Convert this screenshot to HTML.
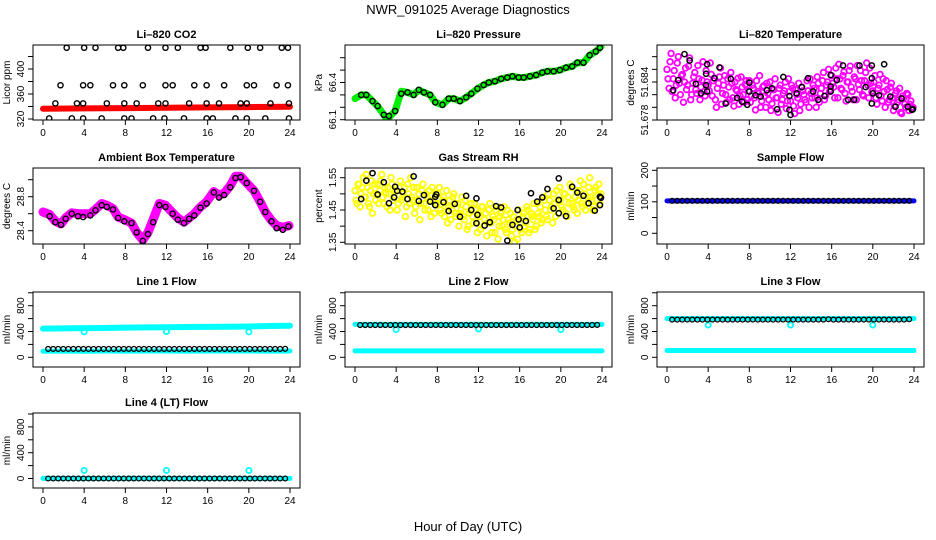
<!DOCTYPE html>
<html><head><meta charset="utf-8"><title>NWR_091025 Average Diagnostics</title>
<style>
html,body{margin:0;padding:0;background:#fff;}
svg{display:block;font-family:"Liberation Sans",sans-serif;}
</style></head>
<body>
<svg id="chart" width="936" height="540" viewBox="0 0 936 540" xmlns="http://www.w3.org/2000/svg">
<rect x="0" y="0" width="936" height="540" fill="#fff"/>
<text x="468" y="14" font-size="13" text-anchor="middle">NWR_091025  Average Diagnostics</text>
<text x="468" y="531" font-size="13" text-anchor="middle">Hour of Day (UTC)</text>
</svg>
<script>
// ---------- data ----------
const xTicks=[0,4,8,12,16,20,24];
// CO2
const co2RedHours=[0,4,8,12,16,20,24];
const co2RedVals=[336.5,337,337.5,338,338.5,339,339.5];
const co2TopHours=[2.3,4.0,5.1,7.3,7.8,10.2,11.9,13.1,15.3,15.8,18.2,19.9,21.1,23.2,23.8];
const co2TopVals=[434,434,434,434,434,434,434,434,434,434,434,434,434,434,434];
const co2MidHours=[1.7,3.9,4.6,6.8,7.9,9.7,11.9,12.6,14.7,15.9,17.6,19.8,20.5,22.7,23.8];
const co2MidVals=[374,374,374,374,374,374,374,374,374,374,374,374,374,374,374];
const co2LowHours=[1.2,3.3,3.9,6.2,7.9,9.1,11.2,11.9,14.2,15.9,17.1,19.2,19.8,22.1,23.9];
const co2LowVals=[345,345,345,345,345,345,345,345,345,345,345,345,345,345,345];
const co2BotHours=[0.6,2.8,3.9,5.7,7.9,8.6,10.7,11.8,13.7,15.9,16.5,18.7,19.8,21.6,23.9];
const co2BotVals=[321,321,321,321,321,321,321,321,321,321,321,321,321,321,321];
// Pressure
const presHours=[0.6,1.1,1.7,2.2,2.8,3.3,3.9,4.5,5.1,5.7,6.2,6.7,7.3,7.8,8.5,9.1,9.6,10.2,10.8,11.3,11.9,12.5,13.0,13.6,14.2,14.8,15.3,15.9,16.4,17.0,17.6,18.2,18.7,19.3,19.9,20.5,21.1,21.6,22.2,22.8,23.4,23.8];
const presVals=[66.30,66.30,66.25,66.21,66.14,66.13,66.17,66.31,66.32,66.30,66.34,66.32,66.30,66.24,66.22,66.27,66.27,66.25,66.28,66.31,66.35,66.38,66.40,66.41,66.43,66.44,66.45,66.44,66.44,66.45,66.46,66.48,66.49,66.49,66.50,66.52,66.53,66.56,66.56,66.62,66.65,66.68];
const presBandHours=[0,0.6,1.1,1.7,2.2,2.8,3.1,3.9,4.5,5.1,5.7,6.2,6.7,7.3,7.8,8.5,9.1,9.6,10.2,10.8,11.3,11.9,12.5,13.0,13.6,14.2,14.8,15.3,15.9,16.4,17.0,17.6,18.2,18.7,19.3,19.9,20.5,21.1,21.6,22.2,22.8,23.4,23.9];
const presBandVals=[66.27,66.30,66.30,66.25,66.21,66.14,66.10,66.17,66.33,66.32,66.30,66.34,66.32,66.30,66.24,66.22,66.27,66.27,66.25,66.28,66.31,66.35,66.38,66.40,66.41,66.43,66.44,66.45,66.44,66.44,66.45,66.46,66.48,66.49,66.49,66.50,66.52,66.53,66.56,66.56,66.62,66.65,66.69];
// Li-820 temperature
const tempBlackHours=[0.6,1.1,1.7,2.2,2.8,3.3,3.8,3.8,3.9,3.9,4.6,5.1,5.7,6.2,6.8,7.3,7.8,8.0,8.0,8.6,9.1,9.7,10.2,10.7,11.3,11.9,11.9,12.0,12.6,13.1,13.7,14.2,14.7,15.3,15.9,15.9,15.9,16.5,17.1,17.6,18.2,18.7,19.3,19.9,19.9,19.9,20.0,20.6,21.1,21.7,22.2,22.8,23.4,23.8,23.9];
const tempBlackVals=[51.6827,51.6843,51.6884,51.6874,51.6837,51.6822,51.6853,51.6835,51.6825,51.6868,51.6846,51.6863,51.6806,51.6845,51.6815,51.6809,51.6804,51.6825,51.6839,51.6819,51.6817,51.6827,51.6830,51.6797,51.6848,51.6818,51.6796,51.6788,51.6822,51.6832,51.6846,51.6825,51.6812,51.6818,51.6833,51.6851,51.6825,51.6843,51.6866,51.6812,51.6812,51.6866,51.6832,51.6866,51.6846,51.6806,51.6822,51.6819,51.6868,51.6817,51.6801,51.6814,51.6801,51.6796,51.6797];
const tempCloudA=[51.6860,51.6830,51.6885,51.6845,51.6815,51.6870,51.6838,51.6850,51.6808,51.6862,51.6835,51.6878,51.6820,51.6848,51.6828,51.6866,51.6812,51.6843,51.6825,51.6858,
51.6835,51.6870,51.6818,51.6846,51.6800,51.6838,51.6862,51.6822,51.6850,51.6808,51.6832,51.6855,51.6815,51.6840,51.6826,51.6805,51.6848,51.6820,51.6836,51.6812,
51.6842,51.6818,51.6830,51.6796,51.6825,51.6850,51.6810,51.6834,51.6800,51.6822,51.6840,51.6806,51.6828,51.6815,51.6792,51.6835,51.6812,51.6826,51.6798,51.6845,
51.6810,51.6830,51.6790,51.6820,51.6838,51.6805,51.6826,51.6812,51.6842,51.6800,51.6822,51.6835,51.6815,51.6848,51.6808,51.6830,51.6855,51.6818,51.6840,51.6825,
51.6850,51.6832,51.6862,51.6815,51.6845,51.6828,51.6856,51.6810,51.6840,51.6865,51.6825,51.6848,51.6812,51.6836,51.6858,51.6820,51.6842,51.6870,51.6815,51.6838,
51.6826,51.6850,51.6805,51.6835,51.6818,51.6845,51.6800,51.6828,51.6812,51.6838,51.6795,51.6822,51.6808,51.6830,51.6790,51.6815,51.6800,51.6820,51.6805,51.6798];
const tempCloudB=[51.6845,51.6872,51.6825,51.6858,51.6835,51.6880,51.6820,51.6852,51.6840,51.6828,51.6865,51.6812,51.6838,51.6855,51.6822,51.6845,51.6832,51.6872,51.6818,51.6840,
51.6826,51.6852,51.6842,51.6812,51.6830,51.6848,51.6805,51.6835,51.6820,51.6845,51.6812,51.6838,51.6802,51.6828,51.6846,51.6818,51.6832,51.6808,51.6842,51.6826,
51.6808,51.6835,51.6815,51.6842,51.6822,51.6800,51.6832,51.6818,51.6838,51.6812,51.6795,51.6828,51.6845,51.6815,51.6830,51.6805,51.6822,51.6840,51.6810,51.6825,
51.6835,51.6802,51.6828,51.6815,51.6795,51.6832,51.6820,51.6808,51.6826,51.6845,51.6815,51.6830,51.6800,51.6838,51.6822,51.6842,51.6812,51.6835,51.6860,51.6828,
51.6838,51.6815,51.6845,51.6868,51.6830,51.6850,51.6822,51.6840,51.6858,51.6832,51.6812,51.6845,51.6866,51.6828,51.6842,51.6818,51.6855,51.6835,51.6862,51.6825,
51.6840,51.6815,51.6830,51.6852,51.6810,51.6825,51.6842,51.6808,51.6832,51.6815,51.6802,51.6826,51.6812,51.6792,51.6818,51.6805,51.6822,51.6795,51.6810,51.6800];
// Ambient box temperature
const ambHours=[0.65,1.2,1.75,2.2,2.8,3.4,3.9,4.6,5.1,5.7,6.2,6.8,7.3,7.9,8.6,9.1,9.7,10.2,10.7,11.3,11.9,12.6,13.1,13.7,14.2,14.7,15.3,15.9,16.6,17.1,17.6,18.2,18.7,19.2,19.8,20.5,21.1,21.6,22.2,22.7,23.3,23.85];
const ambVals=[28.57,28.50,28.47,28.54,28.60,28.57,28.56,28.58,28.64,28.70,28.68,28.65,28.55,28.51,28.49,28.38,28.28,28.36,28.50,28.70,28.68,28.60,28.53,28.49,28.54,28.58,28.67,28.72,28.85,28.79,28.82,28.91,29.02,29.03,28.96,28.87,28.74,28.62,28.51,28.43,28.41,28.45];
const ambBandHours=[0,0.65,1.2,1.75,2.2,2.8,3.4,3.9,4.6,5.1,5.7,6.2,6.8,7.3,7.9,8.6,9.1,9.7,10.2,10.7,11.3,11.9,12.6,13.1,13.7,14.2,14.7,15.3,15.9,16.6,17.1,17.6,18.2,18.7,19.2,19.8,20.5,21.1,21.6,22.2,22.7,23.3,23.9];
const ambBandVals=[28.62,28.59,28.51,28.48,28.55,28.61,28.60,28.60,28.60,28.65,28.72,28.70,28.66,28.56,28.53,28.49,28.38,28.29,28.38,28.53,28.72,28.70,28.61,28.55,28.50,28.55,28.60,28.68,28.74,28.86,28.82,28.84,28.93,29.04,29.04,28.96,28.87,28.74,28.62,28.52,28.46,28.44,28.46];
// Gas stream RH
const rhBlackHours=[0.6,1.1,1.7,2.2,2.8,3.3,3.8,3.9,4.1,4.6,5.1,5.7,6.2,6.7,7.3,7.8,7.9,7.8,8.6,9.1,9.7,10.2,10.8,11.3,11.8,11.9,11.8,12.6,13.1,13.7,14.2,14.8,15.3,15.8,15.9,16.0,16.6,17.1,17.7,18.2,18.7,19.3,19.8,19.8,19.8,20.5,21.1,21.6,22.2,22.7,23.3,23.8,23.8,23.9];
const rhBlackVals=[1.484,1.541,1.564,1.498,1.536,1.471,1.489,1.522,1.509,1.507,1.484,1.554,1.478,1.496,1.476,1.491,1.498,1.465,1.474,1.447,1.469,1.429,1.494,1.450,1.486,1.435,1.409,1.402,1.412,1.462,1.458,1.355,1.404,1.450,1.421,1.396,1.416,1.502,1.476,1.489,1.515,1.455,1.440,1.481,1.548,1.431,1.522,1.504,1.494,1.471,1.448,1.491,1.465,1.488];
const rhCloudA=[1.51,1.47,1.53,1.50,1.55,1.49,1.52,1.46,1.54,1.50,1.48,1.53,1.51,1.56,1.47,1.50,1.52,1.45,1.53,1.49,
1.51,1.47,1.54,1.49,1.52,1.46,1.50,1.55,1.48,1.44,1.52,1.50,1.47,1.53,1.45,1.49,1.51,1.43,1.48,1.50,
1.47,1.52,1.44,1.49,1.46,1.41,1.48,1.45,1.50,1.43,1.47,1.44,1.49,1.42,1.46,1.40,1.45,1.43,1.47,1.41,
1.44,1.39,1.46,1.42,1.37,1.45,1.41,1.43,1.38,1.46,1.40,1.44,1.42,1.39,1.45,1.41,1.37,1.43,1.40,1.36,
1.42,1.38,1.44,1.41,1.45,1.39,1.43,1.47,1.40,1.44,1.46,1.42,1.48,1.43,1.50,1.45,1.41,1.47,1.51,1.44,
1.48,1.45,1.50,1.43,1.47,1.52,1.46,1.49,1.44,1.51,1.47,1.53,1.45,1.49,1.55,1.48,1.46,1.52,1.50,1.47];
const rhCloudB=[1.48,1.53,1.46,1.52,1.49,1.56,1.47,1.51,1.44,1.53,1.50,1.47,1.54,1.49,1.52,1.46,1.50,1.55,1.48,1.51,
1.45,1.52,1.48,1.50,1.43,1.53,1.47,1.49,1.52,1.46,1.48,1.42,1.51,1.47,1.50,1.45,1.48,1.52,1.44,1.47,
1.50,1.45,1.48,1.43,1.51,1.46,1.42,1.49,1.44,1.47,1.40,1.45,1.43,1.48,1.39,1.44,1.47,1.41,1.45,1.38,
1.43,1.46,1.40,1.44,1.41,1.47,1.38,1.42,1.45,1.36,1.43,1.40,1.46,1.38,1.42,1.44,1.39,1.35,1.42,1.45,
1.39,1.43,1.40,1.46,1.38,1.44,1.42,1.39,1.47,1.43,1.41,1.49,1.45,1.42,1.48,1.46,1.50,1.43,1.48,1.52,
1.46,1.50,1.44,1.49,1.53,1.47,1.45,1.51,1.48,1.54,1.46,1.50,1.47,1.52,1.49,1.45,1.51,1.48,1.53,1.50];
// Flows: bands sampled every 2 h
const bandHours=[0,2,4,6,8,10,12,14,16,18,20,22,24];
const sampleBand=[103,103,103,103,103,103,103,103,103,103,103,103,103];
const sampleBlack=[103,103,103,103,103,103,103,103,103,103,103,103,103,103,103,103,103,103,103,103,103,103,103,103,103,103,103,103,103,103,103,103,103,103,103,103,103,103,103,103,103,103,103,103,103,103,103,103];
const line1Upper=[445,448,452,455,460,463,467,470,472,475,478,485,490];
const line1Lower=[95,96,95,97,96,98,97,96,97,98,97,96,97];
const line1Black=[130,130,130,130,130,130,130,130,130,130,130,130,130,130,130,130,130,130,130,130,130,130,130,130,130,130,130,130,130,130,130,130,130,130,130,130,130,130,130,130,130,130,130,130,130,130,130,132];
const line2Upper=[510,510,510,510,510,510,510,510,510,510,510,510,510];
const line2Lower=[100,100,100,100,100,100,100,100,100,100,100,100,100];
const line2Black=[500,500,500,500,500,500,500,500,500,500,500,500,500,500,500,500,500,500,500,500,500,500,500,500,500,500,500,500,500,500,500,500,500,500,500,500,500,500,500,500,500,500,500,500,500,500,500,502];
const line3Upper=[600,600,600,600,600,600,600,600,600,600,600,600,600];
const line3Lower=[105,105,105,105,105,105,105,105,105,105,105,105,105];
const line3Black=[585,585,585,585,585,585,585,585,585,585,585,585,585,585,585,585,585,585,585,585,585,585,585,585,585,585,585,585,585,585,585,590,585,585,585,585,585,585,585,585,585,585,585,585,585,585,585,590];
const line4Base=[2,2,2,2,2,2,2,2,2,2,2,2,2];
const line4Black=[0,0,0,0,0,0,0,0,0,0,0,0,0,0,0,0,0,0,0,0,0,0,0,0,0,0,0,0,0,0,0,0,0,0,0,0,0,0,0,0,0,0,0,0,0,0,0,0];
const dipHours=[4,12,20];
const line1Dips=[395,400,395];
const line2Dips=[430,440,430];
const line3Dips=[500,500,500];
const line4Spikes=[125,125,125];

// ---------- drawing ----------
const NS='http://www.w3.org/2000/svg';
const svg=document.getElementById('chart');
function mk(tag,attrs,parent){const e=document.createElementNS(NS,tag);for(const k in attrs)e.setAttribute(k,attrs[k]);(parent||svg).appendChild(e);return e;}
const rowTop=[45,168,292,413], rowBot=[120,244,367,488];
function colLeft(c){return 33+312*c;}
function makePanel(key,c,r,title,ytitle,v0,p0,k,ticks,labels){
  const L=colLeft(c),R=L+267,T=rowTop[r],B=rowBot[r];
  const g=mk('g',{});
  
  
  const P={L,R,T,B,g,x:h=>L+10+h*(247/24),y:v=>p0-(v-v0)*k};
  const cp=mk('clipPath',{id:'clip-'+key},g);
  mk('rect',{x:L,y:T,width:R-L,height:B-T},cp);
  P.plot=mk('g',{'clip-path':'url(#clip-'+key+')'},g);
  
  
  const t=mk('text',{x:(L+R)/2,y:T-7,'font-size':11,'font-weight':'bold','text-anchor':'middle'},g);
  t.textContent=title;
  
  
  xTicks.forEach(h=>{
    const tk=mk('line',{x1:P.x(h),x2:P.x(h),y1:B,y2:B+5,stroke:'#000','stroke-width':1},g);
    
    
    const tl=mk('text',{x:P.x(h),y:B+16,'font-size':10,'text-anchor':'middle'},g);
    tl.textContent=h;
    
    
  });
  const xa=mk('line',{x1:P.x(0),x2:P.x(24),y1:B,y2:B,stroke:'#000'},g);
  
  
  ticks.forEach(v=>{
    const tk=mk('line',{x1:L-5,x2:L,y1:P.y(v),y2:P.y(v),stroke:'#000'},g);
    
    
  });
  labels.forEach(s=>{
    const yy=P.y(parseFloat(s));
    const tl=mk('text',{x:L-9,y:yy,'font-size':10,'text-anchor':'middle',transform:'rotate(-90 '+(L-9)+' '+yy+')'},g);
    tl.textContent=s;
    
    
  });
  const ym=(T+B)/2;
  const yt=mk('text',{x:L-23,y:ym,'font-size':10,'text-anchor':'middle',transform:'rotate(-90 '+(L-23)+' '+ym+')'},g);
  yt.textContent=ytitle;
  
  
  const box=mk('rect',{x:L,y:T,width:R-L,height:B-T,fill:'none',stroke:'#000','stroke-width':1},g);
  
  
  return P;
}
function pts(P,hours,vals,color,r,sw,name){
  hours.forEach((h,i)=>{
    const c=mk('circle',{cx:P.x(h),cy:P.y(vals[i]),r:r,fill:'none',stroke:color,'stroke-width':sw},P.plot);
    
    
  });
}
function band(P,hours,vals,color,w,name){
  const d=hours.map((h,i)=>(i?'L':'M')+P.x(h).toFixed(1)+' '+P.y(vals[i]).toFixed(1)).join(' ');
  const p=mk('path',{d:d,fill:'none',stroke:color,'stroke-width':w,'stroke-linejoin':'round','stroke-linecap':'round'},P.plot);
  
  
}
function gridHours(n,start,step){const a=[];for(let i=0;i<n;i++)a.push(start+i*step);return a;}
const cloudHoursA=gridHours(120,0,0.2), cloudHoursB=gridHours(120,0.1,0.2);
const blackHours=gridHours(48,0.5,0.49);

// Li-820 CO2
let P=makePanel('co2',0,0,'Li\u2013820 CO2','Licor ppm',320,119,0.625,[320,340,360,380,400,420],['320','360','400']);
band(P,co2RedHours,co2RedVals,'#ff0000',6,'co2-licor-band');
pts(P,co2TopHours,co2TopVals,'#000',2.6,1.4,'co2-point');
pts(P,co2MidHours,co2MidVals,'#000',2.6,1.4,'co2-point');
pts(P,co2LowHours,co2LowVals,'#000',2.6,1.4,'co2-point');
pts(P,co2BotHours,co2BotVals,'#000',2.6,1.4,'co2-point');
// Pressure
P=makePanel('pressure',1,0,'Li\u2013820 Pressure','kPa',66.1,119.7,124,[66.1,66.2,66.3,66.4,66.5,66.6],['66.1','66.4']);
band(P,presBandHours,presBandVals,'#00ee00',7,'pressure-band');
pts(P,presHours,presVals,'#000',2.6,1.4,'pressure-point');
// Temperature
P=makePanel('temperature',2,0,'Li\u2013820 Temperature','degrees C',51.678,120,6333,[51.678,51.680,51.682,51.684,51.686,51.688],['51.678','51.684']);
pts(P,cloudHoursA,tempCloudA,'#ff00ff',2.8,1.8,'temperature-cloud-point');
pts(P,cloudHoursB,tempCloudB,'#ff00ff',2.8,1.8,'temperature-cloud-point');
pts(P,tempBlackHours,tempBlackVals,'#000',2.6,1.5,'temperature-point');
// Ambient
P=makePanel('ambient',0,1,'Ambient Box Temperature','degrees C',28.4,230.7,85,[28.4,28.6,28.8,29.0],['28.4','28.8']);
band(P,ambBandHours,ambBandVals,'#ff00ff',9,'ambient-band');
pts(P,ambHours,ambVals,'#000',2.6,1.4,'ambient-point');
// RH
P=makePanel('rh',1,1,'Gas Stream RH','percent',1.35,242.3,323,[1.35,1.40,1.45,1.50,1.55],['1.35','1.45','1.55']);
pts(P,cloudHoursA,rhCloudA,'#ffff00',2.8,1.8,'rh-cloud-point');
pts(P,cloudHoursB,rhCloudB,'#ffff00',2.8,1.8,'rh-cloud-point');
pts(P,rhBlackHours,rhBlackVals,'#000',2.6,1.5,'rh-point');
// Sample flow
P=makePanel('sample-flow',2,1,'Sample Flow','ml/min',0,233.3,0.315,[0,50,100,150,200],['0','100','200']);
band(P,bandHours,sampleBand,'#0000ff',5,'sample-flow-band');
pts(P,blackHours,sampleBlack,'#000',2.4,1.3,'sample-flow-point');
// Line flows
const flowTicks=[0,200,400,600,800,1000], flowLabels=['0','400','800'];
P=makePanel('line1',0,2,'Line 1 Flow','ml/min',0,357.3,0.0645,flowTicks,flowLabels);
band(P,bandHours,line1Upper,'#00ffff',6,'line1-upper-band');
band(P,bandHours,line1Lower,'#00ffff',5,'line1-lower-band');
pts(P,dipHours,line1Dips,'#00ffff',2.6,1.8,'line1-dip');
pts(P,blackHours,line1Black,'#000',2.4,1.3,'line1-point');
P=makePanel('line2',1,2,'Line 2 Flow','ml/min',0,357.3,0.0645,flowTicks,flowLabels);
band(P,bandHours,line2Upper,'#00ffff',5,'line2-upper-band');
band(P,bandHours,line2Lower,'#00ffff',5,'line2-lower-band');
pts(P,dipHours,line2Dips,'#00ffff',2.6,1.8,'line2-dip');
pts(P,blackHours,line2Black,'#000',2.4,1.3,'line2-point');
P=makePanel('line3',2,2,'Line 3 Flow','ml/min',0,357.3,0.0645,flowTicks,flowLabels);
band(P,bandHours,line3Upper,'#00ffff',5,'line3-upper-band');
band(P,bandHours,line3Lower,'#00ffff',5,'line3-lower-band');
pts(P,dipHours,line3Dips,'#00ffff',2.6,1.8,'line3-dip');
pts(P,blackHours,line3Black,'#000',2.4,1.3,'line3-point');
P=makePanel('line4',0,3,'Line 4 (LT) Flow','ml/min',0,478.5,0.0645,flowTicks,flowLabels);
band(P,bandHours,line4Base,'#00ffff',5,'line4-band');
pts(P,dipHours,line4Spikes,'#00ffff',2.6,1.8,'line4-spike');
pts(P,blackHours,line4Black,'#000',2.4,1.3,'line4-point');
</script>
</body></html>
